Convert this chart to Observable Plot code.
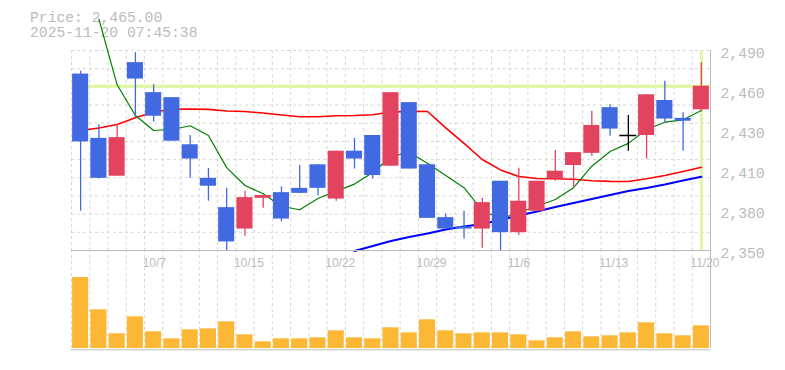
<!DOCTYPE html>
<html><head><meta charset="utf-8">
<script src="https://cdn.jsdelivr.net/npm/d3@7"></script>
<script src="https://cdn.jsdelivr.net/npm/@observablehq/plot@0.6"></script>
<style>
html,body{margin:0;padding:0;background:#fff;}
#wrap{position:relative;width:785px;height:370px;overflow:hidden;}
#title{position:absolute;left:30px;top:10.7px;font-family:"Liberation Mono",monospace;font-size:14.7px;line-height:15.4px;color:#bbb;white-space:pre;}
#price,#vol{position:absolute;left:0;}
#price{top:0;z-index:2;}
#vol{top:250px;z-index:1;}
</style></head><body>
<div id="wrap"><div id="title"></div><div id="vol"></div><div id="price"></div></div>
<script>
// ---- data ----
const dates = ["10/1","10/2","10/3","10/6","10/7","10/8","10/9","10/10","10/14","10/15","10/16","10/17","10/20","10/21","10/22","10/23","10/24","10/27","10/28","10/29","10/30","10/31","11/4","11/5","11/6","11/7","11/10","11/11","11/12","11/13","11/14","11/17","11/18","11/19","11/20"];
const opens  = [2473.5,2428.5,2402,2481.5,2460.5,2457,2424,2400.5,2380,2365,2386.5,2390.5,2393.5,2410,2386,2419.5,2430.5,2409,2453.5,2410,2373,2366.5,2365,2398.5,2362.5,2377.5,2400,2409.5,2418,2450,2430.5,2430.5,2455,2442.5,2448.5];
const highs  = [2475.5,2438,2438,2488.5,2466,2457,2430.5,2407.5,2393.5,2391.5,2388.5,2394.5,2409.5,2410,2419.5,2428.5,2430.5,2460.5,2453.5,2410,2375.5,2377.5,2386.5,2398.5,2407.5,2398.5,2420,2418.5,2447.5,2452,2444.5,2459,2468.5,2446.5,2481.5];
const lows   = [2377.5,2400,2402,2443,2440,2426.5,2400.5,2384.5,2349.5,2360,2379.5,2370,2390,2388.5,2384.5,2407,2400,2409,2407,2372.5,2365,2358,2351.5,2349.5,2360.5,2377.5,2398.5,2394.5,2416,2430,2419.5,2414,2439,2419.5,2447];
const closes = [2426,2400.5,2429,2470,2444,2426.5,2414,2395,2356,2387,2388.5,2372,2390,2393.5,2419.5,2414,2402.5,2460.5,2407,2372.5,2365,2365,2383.5,2362.5,2384.5,2398.5,2405.5,2418.5,2437.5,2435,2430.5,2459,2442,2440.5,2465];
const volumes = [213,116,44,95,50,29,56,59,80,41,20,29,29,32,53,32,29,62,47,86,53,44,47,47,41,23,32,50,35,38,47,77,44,38,68];
const maShort = [null,2512,2466,2444.5,2434,2434.7,2437.3,2430.5,2408,2395.5,2389.7,2381,2378.5,2386.4,2391.6,2396.5,2404.6,2415.8,2418.6,2411,2402.5,2394,2378,2372,2376.6,2381,2385.7,2394,2409,2419.3,2425,2434.7,2439.8,2441.5,2448];
const maMid = [2434,2435.8,2438.2,2442.9,2447,2448.9,2449,2448.8,2447.7,2447.3,2446.2,2444.8,2443.6,2443.6,2444.3,2444.5,2445,2447,2447.4,2447.3,2435.8,2425,2413.7,2406.4,2401.8,2400.4,2400.2,2399.9,2398.8,2398.4,2398.3,2400.2,2402.5,2405.3,2408.3];
const maLong = [null,null,null,null,null,null,null,null,null,null,null,null,null,null,null,2349.7,2353.2,2356.7,2359.5,2361.9,2364.7,2366.8,2368.6,2371.4,2374.5,2377.3,2380.5,2383.3,2386,2388.9,2391.7,2393.8,2396.2,2399,2401.6];
const currentPrice = 2465;
const quoteTime = "2025-11-20 07:45:38";
const xTickIdx = [4,9,14,19,24,29,34];
const yTickLabels = ["2,350","2,380","2,410","2,430","2,460","2,490"];

// ---- chart config ----
const yMin = 2350, yMax = 2490, volMax = 294;
const UP = "#e2445f", DOWN = "#4169e1", FLAT = "#000000";
const GRID = "#d8d8d8", BORDER = "#bbbbbb", TXT = "#bbbbbb", CUR = "#e2f5a8";
const n = dates.length;
const xMin = -0.5, xMax = n - 0.5;
const half = 0.44;

const rows = dates.map((d, i) => ({
  i, date: d, open: opens[i], high: highs[i], low: lows[i], close: closes[i],
  vol: volumes[i], ma1: maShort[i], ma2: maMid[i], ma3: maLong[i],
  color: closes[i] > opens[i] ? UP : closes[i] < opens[i] ? DOWN : FLAT
}));
const yTicks = d3.range(yTickLabels.length).map(k => yMin + k * (yMax - yMin) / (yTickLabels.length - 1));
const hGrid = d3.range(12).map(k => yMin + k * (yMax - yMin) / 11);
const vGrid = d3.range(n + 1).map(k => k - 0.5);

document.getElementById("title").textContent =
  "Price: " + d3.format(",.2f")(currentPrice) + "\n" + quoteTime;

const price = Plot.plot({
  width: 785, height: 250,
  marginTop: 50, marginBottom: 0, marginLeft: 71, marginRight: 75,
  style: {background: "transparent", overflow: "visible"},
  x: {domain: [xMin, xMax], axis: null},
  y: {domain: [yMin, yMax], axis: null},
  color: {type: "identity"},
  marks: [
    Plot.ruleX(vGrid, {stroke: GRID, strokeDasharray: "3,3"}),
    Plot.ruleY(hGrid, {stroke: GRID, strokeDasharray: "3,3"}),
    Plot.ruleY([currentPrice], {stroke: CUR, strokeWidth: 3.5}),
    Plot.ruleX([n - 1], {stroke: CUR, strokeWidth: 3}),
    Plot.line(rows, {x: "i", y: "ma3", stroke: "#0000ff", strokeWidth: 2}),
    Plot.line(rows, {x: "i", y: "ma2", stroke: "#ff0000", strokeWidth: 1.6}),
    Plot.line(rows, {x: "i", y: "ma1", stroke: "#008000", strokeWidth: 1.2}),
    Plot.ruleX(rows, {x: "i", y1: "low", y2: "high", stroke: "color", strokeWidth: 1.3}),
    Plot.rect(rows.filter(r => r.open !== r.close), {x1: r => r.i - half, x2: r => r.i + half, y1: "open", y2: "close", fill: "color"}),
    Plot.ruleY(rows.filter(r => r.open === r.close), {y: "close", x1: r => r.i - 0.46, x2: r => r.i + 0.46, stroke: "color", strokeWidth: 1.5}),
    Plot.ruleY([yMin], {stroke: BORDER}),
    Plot.ruleX([xMax], {stroke: BORDER}),
    Plot.axisY(yTicks, {anchor: "right", tickSize: 0, tickPadding: 10, textAnchor: "start",
      tickFormat: d => yTickLabels[yTicks.indexOf(d)], color: TXT, fontFamily: "Liberation Mono", fontSize: 14.7, dy: 3})
  ]
});
document.getElementById("price").appendChild(price);

const vol = Plot.plot({
  width: 785, height: 120,
  marginTop: 0, marginBottom: 22, marginLeft: 71, marginRight: 75,
  style: {background: "transparent", overflow: "visible"},
  x: {domain: [xMin, xMax], axis: null},
  y: {domain: [0, volMax], axis: null},
  marks: [
    Plot.ruleX(vGrid, {stroke: GRID, strokeDasharray: "3,3", y1: 0, y2: volMax}),
    Plot.rectY(rows, {x1: r => r.i - half, x2: r => r.i + half, y1: 0, y2: "vol", fill: "#fcb735"}),
    Plot.ruleY([0], {stroke: BORDER, dy: 1.3}),
    Plot.ruleX([xMax], {stroke: BORDER, y1: 0, y2: volMax, dy: 0}),
    Plot.text(xTickIdx, {x: d => d, text: d => dates[d], frameAnchor: "top", lineAnchor: "bottom", dy: 16, dx: -11,
      textAnchor: "start", fill: TXT, fontFamily: "Liberation Sans", fontSize: 12})
  ]
});
document.getElementById("vol").appendChild(vol);
</script>
</body></html>
